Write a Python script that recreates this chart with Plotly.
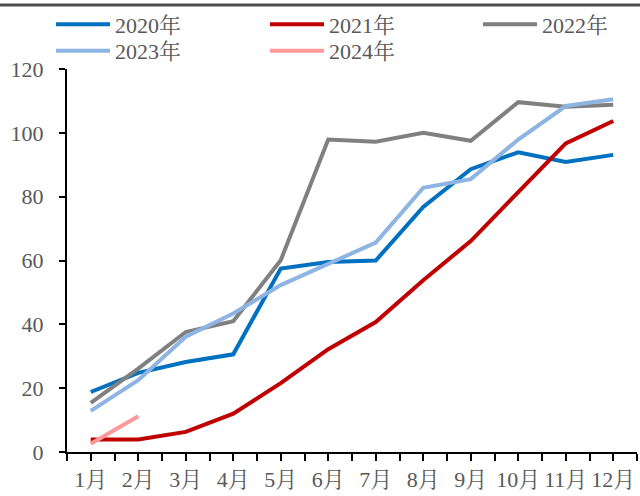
import plotly.graph_objects as go

months = ["1月", "2月", "3月", "4月", "5月", "6月", "7月", "8月", "9月", "10月", "11月", "12月"]

y2020 = [18.8, 24.8, 28.2, 30.6, 57.5, 59.5, 60.0, 76.8, 88.6, 93.9, 90.9, 93.1]
y2021 = [3.9, 3.9, 6.3, 12.0, 21.6, 32.2, 40.7, 53.8, 66.1, 81.5, 96.7, 103.7]
y2022 = [15.4, 26.1, 37.6, 41.0, 60.1, 97.9, 97.2, 100.0, 97.5, 109.6, 108.2, 108.8]
y2023 = [12.9, 22.5, 36.1, 43.4, 52.3, 58.8, 65.6, 82.8, 85.5, 97.9, 108.4, 110.5]
y2024 = [2.6, 11.2]

series = [
    ("2020年", y2020, "#0070C0"),
    ("2021年", y2021, "#C00000"),
    ("2022年", y2022, "#808080"),
    ("2023年", y2023, "#8DB4E2"),
    ("2024年", y2024, "#FF9999"),
]

FONT = "Times New Roman, Liberation Serif, Noto Serif CJK SC, Noto Sans CJK SC, serif"
TEXT_GREY = "#595959"

W, H = 640, 496
ML, MR, MT, MB = 67, 3, 69, 44
PW, PH = W - ML - MR, H - MT - MB

# legend grid: three columns, two rows (pixel anchors of each entry)
legend_cols = [51, 265, 478]
legend_rows = [3.5, 30.0]
legend_slots = [(0, 0), (0, 1), (0, 2), (1, 0), (1, 1)]

fig = go.Figure()
legend_layouts = {}
for i, (name, vals, color) in enumerate(series):
    key = "legend" if i == 0 else f"legend{i + 1}"
    fig.add_trace(go.Scatter(
        x=list(range(len(vals))),
        y=vals,
        name=name,
        mode="lines",
        line=dict(color=color, width=4),
        legend=key,
        showlegend=True,
    ))
    r, c = legend_slots[i]
    legend_layouts[key] = dict(
        xref="container", yref="container",
        x=legend_cols[c] / W, y=1 - legend_rows[r] / H,
        xanchor="left", yanchor="top",
        itemwidth=54,
        font=dict(family=FONT, size=22, color=TEXT_GREY),
        bgcolor="rgba(0,0,0,0)",
    )

# rule along the top edge of the figure
rule_y = (H - MB - 5) / PH

fig.update_layout(
    width=W,
    height=H,
    showlegend=True,
    margin=dict(l=ML, r=MR, t=MT, b=MB, autoexpand=False),
    paper_bgcolor="white",
    plot_bgcolor="white",
    font=dict(family=FONT, size=22, color=TEXT_GREY),
    xaxis=dict(
        range=[-0.5, 11.5],
        tickmode="array",
        tickvals=list(range(12)),
        ticktext=months,
        ticks="outside", ticklen=7, tickwidth=2, tickcolor="black",
        minor=dict(tickmode="array", tickvals=[i - 0.5 for i in range(13)],
                   ticks="outside", ticklen=7, tickwidth=2, tickcolor="black"),
        showline=True, linecolor="black", linewidth=2,
        showgrid=False, zeroline=False,
        tickfont=dict(family=FONT, size=22, color=TEXT_GREY),
        fixedrange=True,
    ),
    yaxis=dict(
        range=[0, 120],
        tickvals=[0, 20, 40, 60, 80, 100, 120],
        ticks="outside", ticklen=6, tickwidth=2, tickcolor="black",
        showline=True, linecolor="black", linewidth=2,
        showgrid=False, zeroline=False,
        tickfont=dict(family=FONT, size=22, color=TEXT_GREY),
        ticklabelstandoff=11,
        fixedrange=True,
    ),
    shapes=[
        dict(type="line", xref="paper", yref="paper", layer="above",
             x0=-ML / PW, x1=1 + MR / PW, y0=rule_y, y1=rule_y,
             line=dict(color="#4D4D4D", width=3)),
    ],
    **legend_layouts,
)

fig.write_html("out.html")
